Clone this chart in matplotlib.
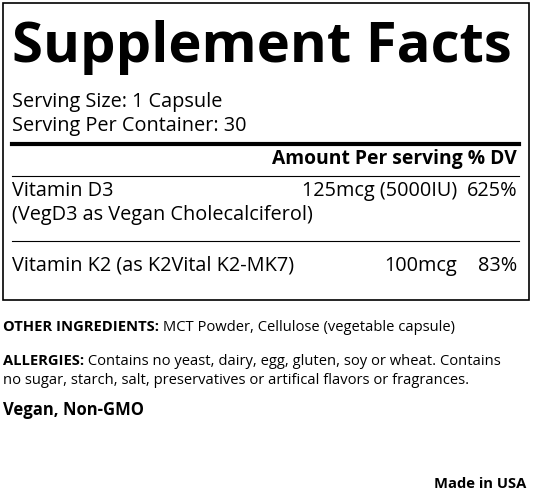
import matplotlib
matplotlib.use("Agg")
import matplotlib.pyplot as plt

title = "Supplement Facts"
serving_lines = ["Serving Size: 1 Capsule", "Serving Per Container: 30"]
header = "Amount Per serving % DV"
nutrients = ["Vitamin D3", "Vitamin K2 (as K2Vital K2-MK7)"]
nutrient_sub = ["(VegD3 as Vegan Cholecalciferol)", ""]
amounts = ["125mcg (5000IU)", "100mcg"]
dvs = ["625%", "83%"]
other_label = "OTHER INGREDIENTS:"
other_text = " MCT Powder, Cellulose (vegetable capsule)"
allergy_label = "ALLERGIES:"
allergy_text = [" Contains no yeast, dairy, egg, gluten, soy or wheat. Contains",
                "no sugar, starch, salt, preservatives or artifical flavors or fragrances."]
claim = "Vegan, Non-GMO"
origin = "Made in USA"

plt.rcParams['font.family'] = ['Open Sans', 'DejaVu Sans']
fig = plt.figure(figsize=(5.33, 4.92), dpi=100)
ax = fig.add_axes([0, 0, 1, 1])
ax.set_xlim(0, 533); ax.set_ylim(492, 0); ax.axis('off')

body = 14.3
small = 10.6
ax.add_patch(plt.Rectangle((3, 3), 526, 297, fill=False, lw=1.2, ec='black'))
ax.text(12, 62, title, fontsize=40.5, fontweight='bold', va='baseline')
for i, s in enumerate(serving_lines):
    ax.text(12, 107 + 24 * i, s, fontsize=body, va='baseline')
ax.plot([12, 519], [144, 144], color='black', lw=3)
ax.text(517, 164, header, fontsize=body * 0.97, fontweight='bold', ha='right', va='baseline')
ax.plot([12, 519], [176, 176], color='black', lw=0.8)
ys = [196, 271]
for i in range(len(nutrients)):
    ax.text(12, ys[i], nutrients[i], fontsize=body, va='baseline')
    if nutrient_sub[i]:
        ax.text(12, ys[i] + 24, nutrient_sub[i], fontsize=body, va='baseline')
    ax.text(457, ys[i], amounts[i], fontsize=body, ha='right', va='baseline')
    ax.text(517, ys[i], dvs[i], fontsize=body, ha='right', va='baseline')
ax.plot([12, 519], [241, 241], color='black', lw=0.8)

inv = ax.transData.inverted()
t = ax.text(3, 331, other_label, fontsize=small, fontweight='bold', va='baseline')
fig.canvas.draw()
xd = inv.transform((t.get_window_extent().x1, 0))[0]
ax.text(xd, 331, other_text, fontsize=small, va='baseline')

t = ax.text(3, 365, allergy_label, fontsize=small, fontweight='bold', va='baseline')
fig.canvas.draw()
xd = inv.transform((t.get_window_extent().x1, 0))[0]
ax.text(xd, 365, allergy_text[0], fontsize=small, va='baseline')
ax.text(3, 384, allergy_text[1], fontsize=small, va='baseline')

ax.text(3, 415, claim, fontsize=12, fontweight='bold', va='baseline')
ax.text(526, 488, origin, fontsize=10.6, fontweight='bold', ha='right', va='baseline')

fig.savefig("out.png", dpi=100, facecolor='white')
